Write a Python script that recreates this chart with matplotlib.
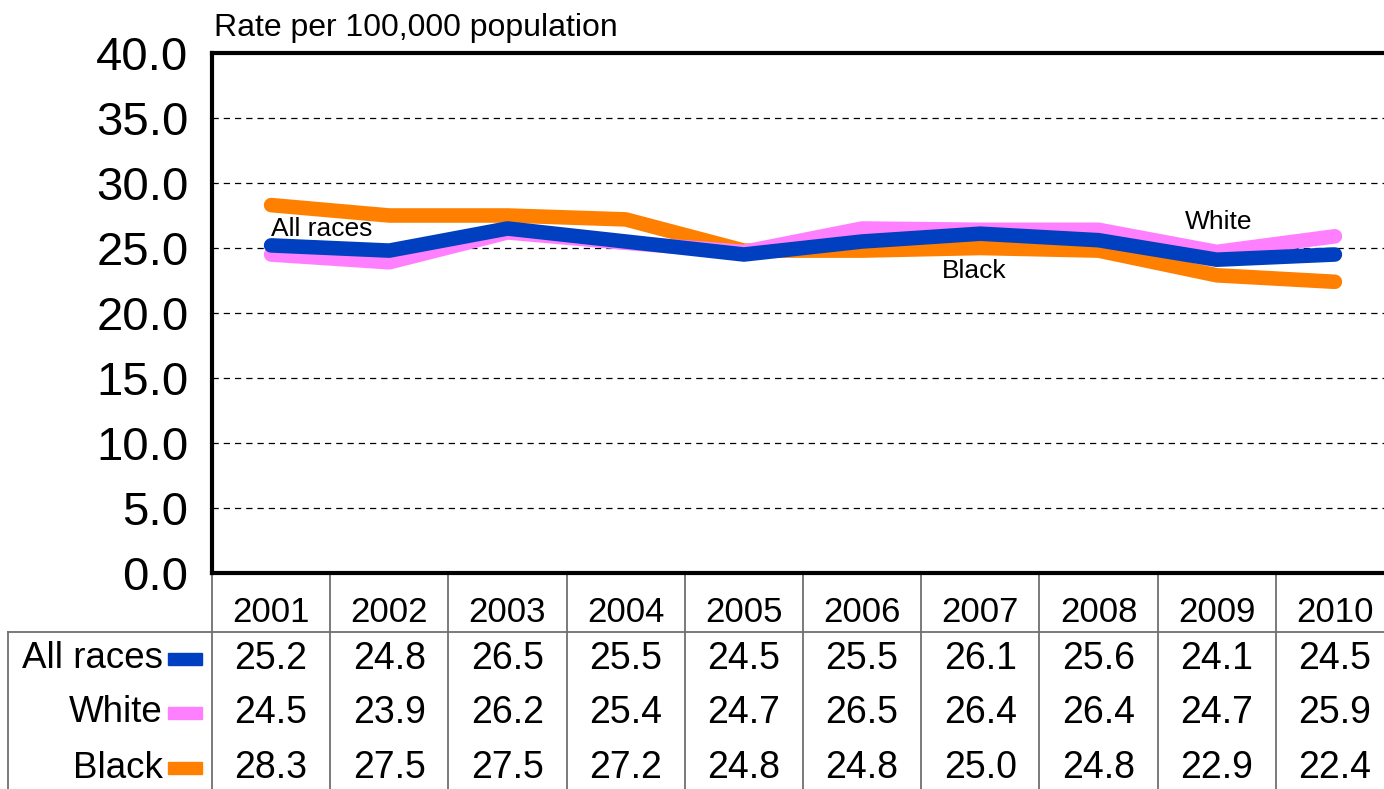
import matplotlib.pyplot as plt
import matplotlib.transforms as mtransforms

plt.rcParams['font.family'] = ['Liberation Sans', 'DejaVu Sans']

years = ['2001', '2002', '2003', '2004', '2005', '2006', '2007', '2008', '2009', '2010']
all_races = [25.2, 24.8, 26.5, 25.5, 24.5, 25.5, 26.1, 25.6, 24.1, 24.5]
white = [24.5, 23.9, 26.2, 25.4, 24.7, 26.5, 26.4, 26.4, 24.7, 25.9]
black = [28.3, 27.5, 27.5, 27.2, 24.8, 24.8, 25.0, 24.8, 22.9, 22.4]

series_names = ['All races', 'White', 'Black']
series_vals = [all_races, white, black]
colors = ['#0040C0', '#FF80FF', '#FF8000']

W, H = 1384, 789
fig = plt.figure(figsize=(W / 100, H / 100), dpi=100)
ax = fig.add_axes([212 / W, 1 - 573 / H, (1394 - 212) / W, (573 - 53) / H])

x = list(range(len(years)))
# draw black first, blue on top
for i in [2, 1, 0]:
    ax.plot(x, series_vals[i], color=colors[i], lw=10.5, solid_capstyle='round',
            solid_joinstyle='round', zorder=3 + (2 - i))

ax.set_xlim(-0.5, len(years) - 0.5)
ax.set_ylim(0, 40)
ax.set_yticks([0, 5, 10, 15, 20, 25, 30, 35, 40])
ax.set_yticklabels([f'{v:.1f}' for v in ax.get_yticks()], fontsize=34)
ax.tick_params(axis='y', length=0, pad=17)
ax.set_xticks([])
for y in [5, 10, 15, 20, 25, 30, 35]:
    ax.axhline(y, color='black', lw=0.9, ls=(0, (5, 4)), zorder=1)
for s in ax.spines.values():
    s.set_linewidth(3)

ax.text(0, 26.5, 'All races', fontsize=19, ha='left', va='center', zorder=10)
ax.text(8.02, 27.0, 'White', fontsize=19, ha='center', va='center', zorder=10)
ax.text(5.95, 23.2, 'Black', fontsize=19, ha='center', va='center', zorder=10)

fig.text(214 / W, 1 - 28 / H, 'Rate per 100,000 population', fontsize=23,
         ha='left', va='center')

# data table under the plot
tab = fig.add_axes([0, 0, 1, 1], zorder=-1)
tab.set_xlim(0, W)
tab.set_ylim(H, 0)
tab.axis('off')
tr = mtransforms.blended_transform_factory(ax.transData, tab.transData)
grid_c = '#707070'

for k in range(len(years) + 1):
    tab.plot([k - 0.5, k - 0.5], [573, H], color=grid_c, lw=1.3, transform=tr,
             clip_on=False)
tab.plot([8, W], [632, 632], color=grid_c, lw=1.3)
tab.plot([8, 8], [632, H], color=grid_c, lw=1.3)

for k, yr in enumerate(years):
    tab.text(k, 612, yr, fontsize=25, ha='center', va='center', transform=tr)

row_y = [659, 713, 768]
for r, name in enumerate(series_names):
    tab.text(163, row_y[r], name, fontsize=26.5, ha='right', va='center')
    tab.add_patch(plt.Rectangle((168, row_y[r] - 6), 34, 12, color=colors[r]))
    for k, v in enumerate(series_vals[r]):
        tab.text(k, row_y[r], f'{v:.1f}', fontsize=27, ha='center', va='center',
                 transform=tr)

fig.savefig('out.png', dpi=100)
